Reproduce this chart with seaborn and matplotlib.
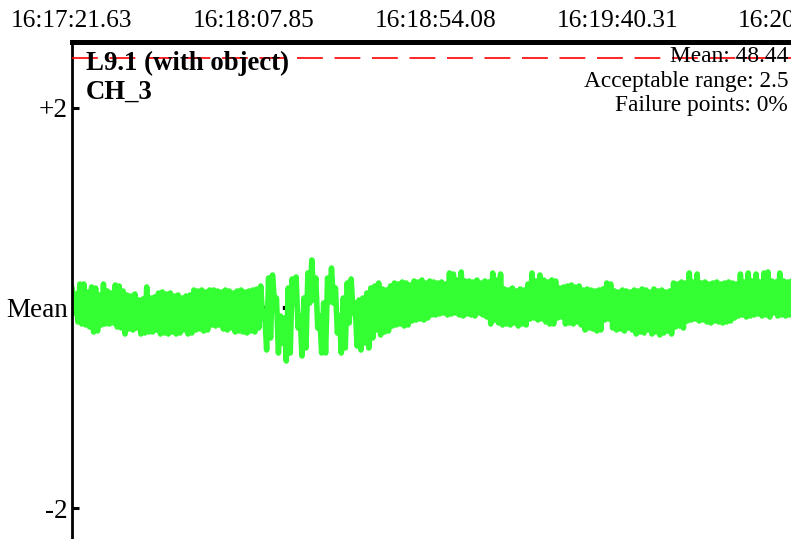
import numpy as np
import pandas as pd
import seaborn as sns
import matplotlib.pyplot as plt
from datetime import datetime

# header values
mean_value = 48.44
acceptable_range = 2.5
failure_pct = 0
title_lines = ["L9.1 (with object)", "CH_3"]

# time axis (top)
start_time = "16:17:21.63"
tick_labels = ["16:17:21.63", "16:18:07.85", "16:18:54.08", "16:19:40.31", "16:20:26.54"]
sample_sec = 1.0

# deviation from mean: max / min of the trace in each 1 s column
hi_a = [0.20, 0.14, 0.24, 0.24, 0.16, 0.21, 0.20, 0.13, 0.24, 0.17, 0.15, 0.23, 0.22, 0.17, 0.13, 0.12,
        0.14, 0.08, 0.09, 0.21, 0.10, 0.11, 0.15, 0.16, 0.14, 0.15, 0.12, 0.13, 0.10, 0.12, 0.13]
lo_a = [-0.05, -0.14, -0.16, -0.17, -0.19, -0.24, -0.23, -0.17, -0.16, -0.16, -0.15, -0.19, -0.20, -0.26,
        -0.21, -0.22, -0.20, -0.26, -0.25, -0.24, -0.24, -0.22, -0.26, -0.25, -0.26, -0.24, -0.26, -0.25,
        -0.22, -0.26, -0.25]
hi_b = [0.18, 0.17, 0.18, 0.16, 0.18, 0.18, 0.17, 0.16, 0.18, 0.17, 0.15, 0.17, 0.18, 0.16, 0.17, 0.18, 0.19]
lo_b = [-0.22, -0.21, -0.23, -0.22, -0.17, -0.18, -0.17, -0.21, -0.22, -0.20, -0.24, -0.23, -0.24, -0.25,
        -0.23, -0.24, -0.20]
hi_burst = [0.22, -0.05, 0.30, 0.33, 0.10, -0.08, -0.10, 0.20, 0.29, 0.31, -0.08, 0.10, 0.35, 0.48, 0.30,
            -0.08, 0.05, 0.30, 0.40, 0.20, -0.08, 0.10, 0.25, 0.29, 0.05, 0.08, 0.10, 0.15, 0.20, 0.22, 0.25]
lo_burst = [-0.10, -0.42, -0.30, 0.05, -0.45, -0.35, -0.53, -0.45, 0.05, -0.20, -0.48, -0.40, 0.05, 0.08,
            -0.20, -0.45, -0.45, 0.06, 0.05, -0.25, -0.45, -0.40, -0.15, -0.05, -0.38, -0.42, -0.35, -0.40,
            -0.30, -0.22, -0.27]
hi_c = [0.19, 0.18, 0.22, 0.25, 0.24, 0.26, 0.25, 0.23, 0.27, 0.26, 0.28, 0.25, 0.27, 0.26]
lo_c = [-0.24, -0.23, -0.18, -0.17, -0.16, -0.18, -0.17, -0.13, -0.12, -0.11, -0.12, -0.10, -0.07, -0.07]
hi_d = [0.25, 0.26, 0.24, 0.35, 0.34, 0.28, 0.36, 0.27, 0.27, 0.26, 0.28, 0.25, 0.27, 0.26, 0.35, 0.28,
        0.34, 0.19, 0.18, 0.20, 0.17, 0.19, 0.18, 0.24, 0.35, 0.27, 0.33, 0.28, 0.26]
lo_d = [-0.06, -0.05, -0.07, -0.06, -0.05, -0.07, -0.08, -0.06, -0.07, -0.08, -0.05, -0.07, -0.09, -0.16,
        -0.12, -0.15, -0.17, -0.16, -0.17, -0.15, -0.18, -0.16, -0.17, -0.11, -0.10, -0.12, -0.11, -0.14, -0.16]
hi_e = [0.28, 0.27, 0.20, 0.21, 0.22, 0.23, 0.21, 0.22, 0.18, 0.19, 0.18, 0.17, 0.18, 0.19, 0.25, 0.24,
        0.17, 0.16, 0.18, 0.17, 0.16, 0.18, 0.17, 0.19, 0.18, 0.16, 0.19, 0.17, 0.18, 0.16, 0.17]
lo_e = [-0.16, -0.10, -0.09, -0.16, -0.15, -0.16, -0.14, -0.17, -0.22, -0.20, -0.21, -0.23, -0.22, -0.12,
        -0.11, -0.20, -0.22, -0.21, -0.23, -0.20, -0.22, -0.26, -0.24, -0.25, -0.22, -0.26, -0.24, -0.27,
        -0.25, -0.23, -0.26]
hi_f = [0.25, 0.24, 0.26, 0.25, 0.35, 0.26, 0.34, 0.25, 0.26, 0.24, 0.25, 0.26, 0.24, 0.25, 0.26, 0.25,
        0.24, 0.34, 0.26, 0.35, 0.27, 0.34, 0.26, 0.35, 0.36, 0.27, 0.26, 0.35, 0.27, 0.26, 0.27]
lo_f = [-0.19, -0.18, -0.20, -0.13, -0.12, -0.11, -0.13, -0.12, -0.14, -0.15, -0.13, -0.14, -0.15, -0.14,
        -0.13, -0.10, -0.08, -0.07, -0.09, -0.08, -0.07, -0.06, -0.08, -0.07, -0.09, -0.05, -0.08, -0.07,
        -0.08, -0.07, -0.08]

hi = hi_a + hi_b + hi_burst + hi_c + hi_d + hi_e + hi_f
lo = lo_a + lo_b + lo_burst + lo_c + lo_d + lo_e + lo_f
t = np.arange(len(hi)) * sample_sec
# min/max trace: each column goes up to its max then down to its min
df = pd.concat([pd.DataFrame({"t": t, "dev": hi}),
                pd.DataFrame({"t": t + sample_sec / 2, "dev": lo})]).sort_values("t")

fmt = "%H:%M:%S.%f"
t0 = datetime.strptime(start_time, fmt)
tick_pos = [(datetime.strptime(s, fmt) - t0).total_seconds() for s in tick_labels]

sns.set_style("white")
plt.rcParams['font.family'] = ['Liberation Serif', 'DejaVu Serif']
plt.rcParams['text.color'] = 'black'
plt.rcParams['xtick.color'] = 'black'
plt.rcParams['ytick.color'] = 'black'

W, H = 791, 539
fig = plt.figure(figsize=(W / 100, H / 100), dpi=100)
px_per_sec = 181.75 / 46.225
ax_left, ax_right, ax_top, ax_bot = 72, 830, 42, 560
ax = fig.add_axes([ax_left / W, 1 - ax_bot / H, (ax_right - ax_left) / W, (ax_bot - ax_top) / H])

ax.axhline(0, color="black", lw=3, dashes=(1.2, 3.4), zorder=1)
sns.lineplot(data=df, x="t", y="dev", ax=ax, color="#33ff33", linewidth=4.0, zorder=2,
             estimator=None, sort=False, solid_joinstyle="round", solid_capstyle="round")
for s in (1, -1):
    ax.axhline(s * acceptable_range, color="red", lw=1.2, dashes=(15.5, 7), zorder=6)

ax.set_xlim(0, (ax_right - ax_left) / px_per_sec)
ax.set_ylim((308 - ax_bot) / 100, (308 - ax_top) / 100)

ax.xaxis.tick_top()
ax.set_xticks(tick_pos)
ax.set_xticklabels(tick_labels, fontsize=18.3)
ax.tick_params(axis="x", length=0, pad=7)
ax.set_yticks([2, 0, -2])
ax.set_yticklabels(["+2", "Mean", "-2"], fontsize=19.5)
ax.tick_params(axis="y", direction="in", length=5, width=2.2, pad=3, left=True)
ax.set_xlabel("")
ax.set_ylabel("")

for side in ("bottom", "right"):
    ax.spines[side].set_visible(False)
ax.spines["top"].set_linewidth(3.6)
ax.spines["left"].set_linewidth(2)
ax.spines["top"].set_color("black")
ax.spines["left"].set_color("black")

fig.text(86 / W, 1 - 63 / H, title_lines[0], fontsize=19.3, fontweight="bold", va="center", zorder=1)
fig.text(86 / W, 1 - 92 / H, title_lines[1], fontsize=19.3, fontweight="bold", va="center", zorder=1)
fig.text(788 / W, 1 - 57 / H, f"Mean: {mean_value:.2f}", fontsize=16.8, ha="right", va="center", zorder=1)
fig.text(788 / W, 1 - 81 / H, f"Acceptable range: {acceptable_range}", fontsize=16.8, ha="right", va="center")
fig.text(788 / W, 1 - 105 / H, f"Failure points: {failure_pct}%", fontsize=16.8, ha="right", va="center")

fig.savefig("out.png", dpi=100)
